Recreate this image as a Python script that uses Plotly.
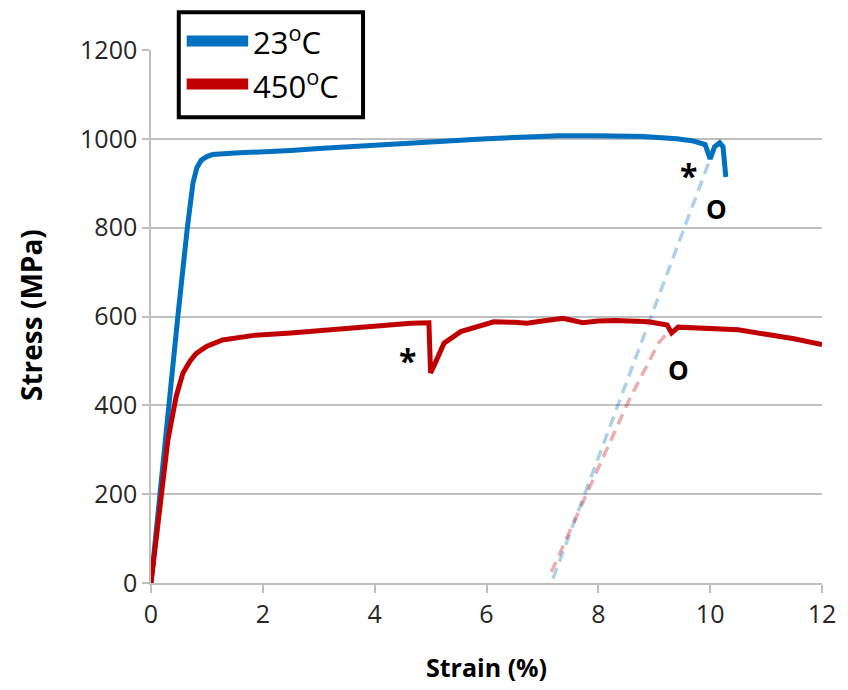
import plotly.graph_objects as go

# ---- data ----
strain_23 = [0, 0.16, 0.30, 0.48, 0.65, 0.75, 0.82, 0.90, 1.0, 1.1, 1.5, 2.0, 2.5, 3.0, 3.5, 4.0,
             4.5, 5.0, 5.5, 6.0, 6.5, 7.0, 7.3, 8.0, 8.8, 9.4, 9.7, 9.91, 10.0, 10.08, 10.17,
             10.23, 10.26, 10.28]
stress_23 = [0, 200, 400, 600, 800, 900, 935, 952, 960, 965, 968, 970, 974, 978, 982, 985,
             989, 993, 997, 1000, 1003, 1006, 1007, 1007, 1005, 1000, 995, 987, 955, 982, 991,
             982, 937, 914]

strain_450 = [0, 0.18, 0.30, 0.37, 0.45, 0.57, 0.70, 0.81, 1.0, 1.28, 1.6, 1.87, 2.5, 3.0, 3.5,
              4.06, 4.65, 4.97, 5.0, 5.1, 5.24, 5.54, 5.83, 6.13, 6.5, 6.72, 7.0, 7.37, 7.72,
              8.0, 8.31, 8.9, 9.23, 9.31, 9.43, 10.08, 10.5, 11.0, 11.5, 12.0]
stress_450 = [0, 200, 320, 367, 420, 472, 500, 517, 533, 547, 553, 558, 563, 568, 573,
              581, 585, 586, 473, 500, 540, 566, 577, 588, 587, 585, 590, 596, 586,
              590, 591, 588, 581, 563, 576, 574, 570, 560, 550, 537]

unload_23_strain = [7.19, 10.0]
unload_23_stress = [10, 955]

unload_450_strain = [7.16, 7.9, 8.55, 9.08, 9.2, 9.32]
unload_450_stress = [25, 232, 412, 541, 558, 566]

legend_labels = ["23<sup>o</sup>C", "450<sup>o</sup>C"]
x_ticks = [0, 2, 4, 6, 8, 10, 12]
y_ticks = [0, 200, 400, 600, 800, 1000, 1200]

BLUE = "#0070C0"
RED = "#C00000"
GRID = "#BFBFBF"
FONT = "Open Sans"

fig = go.Figure()
fig.add_trace(go.Scatter(x=unload_23_strain, y=unload_23_stress, mode="lines",
                         line=dict(color="rgba(0,112,192,0.32)", width=3.5, dash="11px,7px"),
                         showlegend=False, hoverinfo="skip"))
fig.add_trace(go.Scatter(x=unload_450_strain, y=unload_450_stress, mode="lines",
                         line=dict(color="rgba(192,0,0,0.32)", width=3.5, dash="11px,7px"),
                         showlegend=False, hoverinfo="skip"))
fig.add_trace(go.Scatter(x=strain_23, y=stress_23, mode="lines",
                         line=dict(color=BLUE, width=5), showlegend=False))
fig.add_trace(go.Scatter(x=strain_450, y=stress_450, mode="lines",
                         line=dict(color=RED, width=5), showlegend=False))

# point marks
marks = [("*", 4.59, 520, 32), ("*", 9.62, 935, 32), ("O", 10.12, 842, 26), ("O", 9.43, 480, 26)]
for txt, mx, my, sz in marks:
    fig.add_annotation(x=mx, y=my, text="<b>%s</b>" % txt, showarrow=False,
                       xanchor="center", yanchor="middle",
                       font=dict(family=FONT, size=sz, color="black"),
                       yshift=-8 if txt == "*" else 0)

# legend drawn manually (paper coordinates)
fig.add_shape(type="rect", xref="paper", yref="paper", x0=0.0414, x1=0.316, y0=0.874, y1=1.071,
              line=dict(color="black", width=4), fillcolor="white", layer="above")
for i, (lab, col) in enumerate(zip(legend_labels, [BLUE, RED])):
    yy = [1.0169, 0.9362][i]
    fig.add_shape(type="line", xref="paper", yref="paper", x0=0.0532, x1=0.1448, y0=yy, y1=yy,
                  line=dict(color=col, width=11), layer="above")
    fig.add_annotation(xref="paper", yref="paper", x=0.149, y=yy, xanchor="left", yanchor="middle",
                       text=lab, showarrow=False, font=dict(family=FONT, size=31, color="black"))

# axis titles
fig.add_annotation(xref="paper", yref="paper", x=-0.1787, y=0.503, text="<b>Stress (MPa)</b>",
                   xanchor="center", yanchor="middle",
                   textangle=-90, showarrow=False, font=dict(family=FONT, size=28, color="black"))
fig.add_annotation(xref="paper", yref="paper", x=0.5007, y=-0.1576, text="<b>Strain (%)</b>",
                   xanchor="center", yanchor="middle",
                   showarrow=False, font=dict(family=FONT, size=25, color="black"))

# page body has an 8px margin, so the figure is sized to fill the 848x690 window
fig.update_layout(
    width=840, height=682,
    margin=dict(l=143, r=20, t=42, b=107),
    paper_bgcolor="white", plot_bgcolor="white",
    font=dict(family=FONT),
    xaxis=dict(range=[0, 12], tickvals=x_ticks, showgrid=False, zeroline=False,
               showline=True, linecolor=GRID, linewidth=1.5,
               ticks="outside", ticklen=8, tickcolor=GRID, tickwidth=1.5,
               tickfont=dict(family=FONT, size=25, color="#262626")),
    yaxis=dict(range=[0, 1200], tickvals=y_ticks, showgrid=True, gridcolor=GRID, gridwidth=1.5,
               zeroline=False, showline=True, linecolor=GRID, linewidth=1.5,
               ticks="outside", ticklen=7, tickcolor=GRID, tickwidth=1.5,
               tickfont=dict(family=FONT, size=25, color="#262626")),
)

fig.write_html("out.html")
